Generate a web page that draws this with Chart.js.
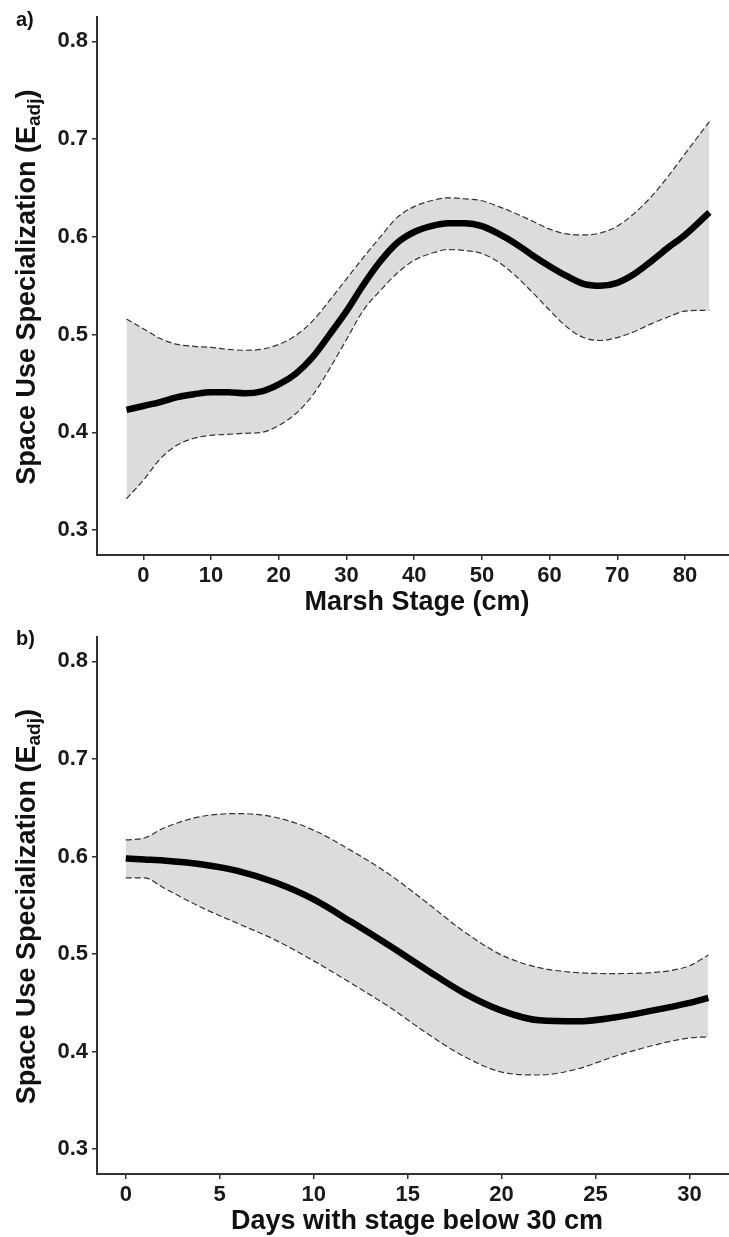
<!DOCTYPE html>
<html>
<head>
<meta charset="utf-8">
<script src="https://cdn.jsdelivr.net/npm/chart.js@4/dist/chart.umd.min.js"></script>
<style>
  html, body { margin: 0; padding: 0; background: #fff; overflow: hidden; }
  .panel { position: absolute; left: 0; }
</style>
</head>
<body>
<canvas id="chartA" class="panel" style="top:0" width="729" height="620"></canvas>
<canvas id="chartB" class="panel" style="top:620px" width="729" height="617"></canvas>
<script>
// panel a: marsh stage (cm)
const marshStage = [-2.5, 0, 2.5, 5, 7.5, 10, 12.5, 15, 17.5, 20, 22.5, 25, 27.5, 30, 32.5, 35, 37.5, 40,
  42.5, 45, 47.5, 50, 52.5, 55, 57.5, 60, 62.5, 65, 67.5, 70, 72.5, 75, 77.5, 80, 83.6];
const marshFit = [0.423, 0.427, 0.431, 0.436, 0.439, 0.441, 0.441, 0.440, 0.442, 0.449, 0.460, 0.477, 0.500,
  0.524, 0.551, 0.575, 0.594, 0.605, 0.611, 0.614, 0.614, 0.611, 0.603, 0.593, 0.581, 0.570, 0.560, 0.552,
  0.550, 0.553, 0.562, 0.575, 0.589, 0.602, 0.625];
const marshUpper = [0.516, 0.506, 0.496, 0.490, 0.488, 0.487, 0.485, 0.484, 0.485, 0.490, 0.499, 0.514, 0.535,
  0.557, 0.579, 0.600, 0.620, 0.631, 0.637, 0.640, 0.639, 0.637, 0.631, 0.624, 0.616, 0.608, 0.603, 0.602,
  0.604, 0.611, 0.624, 0.641, 0.662, 0.685, 0.718];
const marshLower = [0.332, 0.351, 0.373, 0.387, 0.394, 0.397, 0.398, 0.399, 0.400, 0.407, 0.419, 0.438, 0.465,
  0.495, 0.525, 0.545, 0.563, 0.576, 0.583, 0.587, 0.586, 0.583, 0.574, 0.560, 0.543, 0.525, 0.508, 0.497,
  0.494, 0.497, 0.503, 0.511, 0.518, 0.524, 0.525];
const marshTicks = [0, 10, 20, 30, 40, 50, 60, 70, 80];

// panel b: days with stage below 30 cm
const daysBelow = [0, 1, 2, 4, 6, 8, 10, 12, 14, 16, 18, 20, 22, 24, 26, 28, 30, 31];
const daysFit = [0.598, 0.597, 0.596, 0.592, 0.585, 0.573, 0.556, 0.533, 0.509, 0.484, 0.460, 0.442, 0.432,
  0.431, 0.435, 0.442, 0.450, 0.455];
const daysUpper = [0.617, 0.619, 0.629, 0.641, 0.644, 0.640, 0.627, 0.606, 0.582, 0.553, 0.523, 0.499, 0.486,
  0.481, 0.480, 0.481, 0.488, 0.499];
const daysLower = [0.578, 0.578, 0.568, 0.548, 0.531, 0.514, 0.493, 0.470, 0.446, 0.419, 0.395, 0.379, 0.376,
  0.382, 0.395, 0.406, 0.414, 0.415];
const daysTicks = [0, 5, 10, 15, 20, 25, 30];

const yTicks = [0.3, 0.4, 0.5, 0.6, 0.7, 0.8];

const FONT = '"Liberation Sans", Arial, Helvetica, sans-serif';

const panelText = {
  id: 'panelText',
  afterDraw(chart, args, opts) {
    const { ctx, chartArea } = chart;
    ctx.save();
    ctx.fillStyle = '#111';

    ctx.font = `bold 20px ${FONT}`;
    ctx.textAlign = 'left';
    ctx.textBaseline = 'alphabetic';
    ctx.fillText(opts.letter, 16, opts.letterY);

    ctx.font = `bold 27px ${FONT}`;
    ctx.textAlign = 'center';
    ctx.textBaseline = 'middle';
    ctx.fillText(opts.xTitle, 417, opts.xTitleY);

    // y title, E with "adj" subscript
    const head = 'Space Use Specialization (E', sub = 'adj', tail = ')';
    ctx.font = `bold 27px ${FONT}`;
    const wHead = ctx.measureText(head).width, wTail = ctx.measureText(tail).width;
    ctx.font = `bold 19px ${FONT}`;
    const wSub = ctx.measureText(sub).width;
    ctx.translate(35, (chartArea.top + chartArea.bottom) / 2 + 1);
    ctx.rotate(-Math.PI / 2);
    ctx.textAlign = 'left';
    ctx.textBaseline = 'alphabetic';
    let x = -(wHead + wSub + wTail) / 2;
    ctx.font = `bold 27px ${FONT}`;
    ctx.fillText(head, x, 0);
    x += wHead;
    ctx.font = `bold 19px ${FONT}`;
    ctx.fillText(sub, x, 5);
    x += wSub;
    ctx.font = `bold 27px ${FONT}`;
    ctx.fillText(tail, x, 0);
    ctx.restore();
  }
};

function pts(xs, ys) {
  return xs.map((x, i) => ({ x: x, y: ys[i] }));
}

function makePanel(id, xs, fit, upper, lower, xTicks, xMin, xMax, xAxisHeight, topPad, text) {
  const tickFont = { family: FONT, size: 22, weight: 'bold' };
  const band = { borderColor: '#333', borderWidth: 1.2, borderDash: [6, 3], pointRadius: 0, cubicInterpolationMode: 'monotone' };
  return new Chart(document.getElementById(id), {
    type: 'line',
    data: {
      datasets: [
        { data: pts(xs, fit), borderColor: '#000', borderWidth: 6.5, pointRadius: 0, fill: false, cubicInterpolationMode: 'monotone' },
        Object.assign({ data: pts(xs, upper), fill: '+1', backgroundColor: '#dcdcdc' }, band),
        Object.assign({ data: pts(xs, lower), fill: false }, band)
      ]
    },
    options: {
      responsive: false,
      animation: false,
      layout: { padding: { top: topPad, left: 0, right: 0, bottom: 0 } },
      plugins: {
        legend: { display: false },
        tooltip: { enabled: false },
        filler: { drawTime: 'beforeDatasetsDraw' },
        panelText: text
      },
      scales: {
        x: {
          type: 'linear',
          min: xMin,
          max: xMax,
          afterBuildTicks: s => { s.ticks = xTicks.map(v => ({ value: v })); },
          afterFit: s => { s.height = xAxisHeight; },
          ticks: { font: tickFont, color: '#1a1a1a', padding: 3, maxRotation: 0 },
          grid: { drawOnChartArea: false, drawTicks: true, tickLength: 5, color: '#333', lineWidth: 1.5 },
          border: { display: true, color: '#333', width: 2 }
        },
        y: {
          min: 0.2745,
          max: 0.8248,
          afterBuildTicks: s => { s.ticks = yTicks.map(v => ({ value: v })); },
          afterFit: s => { s.width = 97; },
          ticks: { font: tickFont, color: '#1a1a1a', padding: 4, callback: v => v.toFixed(1) },
          grid: { drawOnChartArea: false, drawTicks: true, tickLength: 5, color: '#333', lineWidth: 1.5 },
          border: { display: true, color: '#333', width: 2 }
        }
      }
    },
    plugins: [panelText]
  });
}

makePanel('chartA', marshStage, marshFit, marshUpper, marshLower, marshTicks, -6.85, 86.5, 65, 16,
  { letter: 'a)', letterY: 26, xTitle: 'Marsh Stage (cm)', xTitleY: 603 });
makePanel('chartB', daysBelow, daysFit, daysUpper, daysLower, daysTicks, -1.53, 32.1, 63, 15,
  { letter: 'b)', letterY: 25, xTitle: 'Days with stage below 30 cm', xTitleY: 602 });
</script>
</body>
</html>
